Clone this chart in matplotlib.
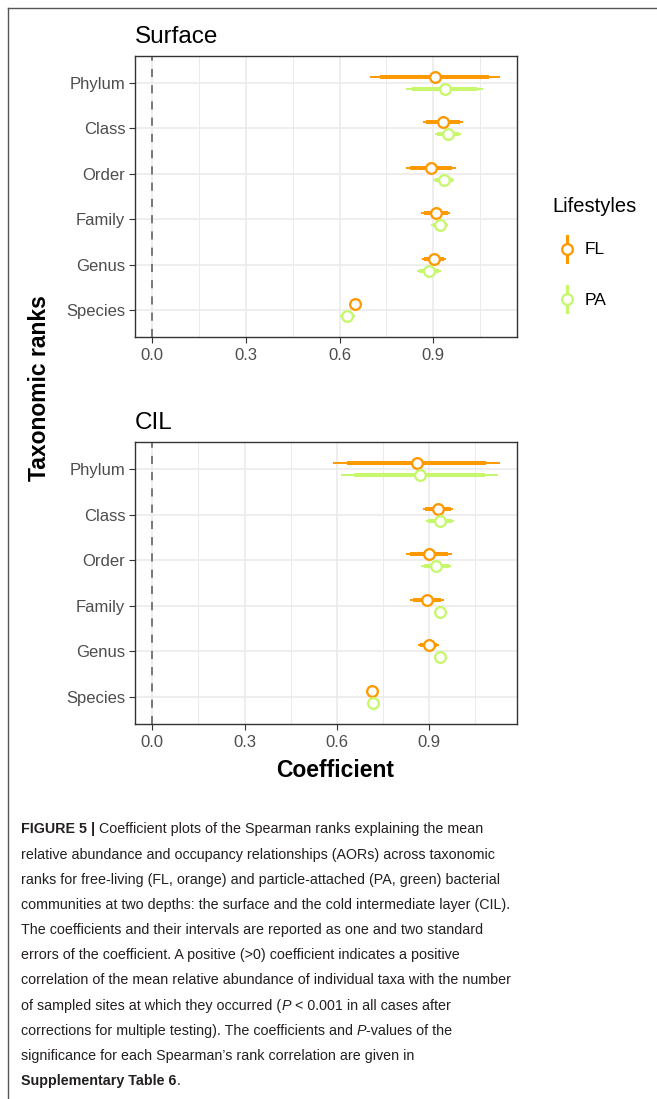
import matplotlib
matplotlib.use('Agg')
import matplotlib.pyplot as plt
import numpy as np
from matplotlib import font_manager

# Spearman coefficients and their standard errors per taxonomic rank
ranks = ['Phylum', 'Class', 'Order', 'Family', 'Genus', 'Species']

surf_fl_coef = [0.905, 0.932, 0.892, 0.908, 0.902, 0.649]
surf_fl_se = [0.106, 0.033, 0.041, 0.0235, 0.020, 0.006]
surf_pa_coef = [0.937, 0.948, 0.934, 0.921, 0.887, 0.625]
surf_pa_se = [0.063, 0.021, 0.017, 0.014, 0.020, 0.012]

cil_fl_coef = [0.860, 0.930, 0.900, 0.895, 0.899, 0.716]
cil_fl_se = [0.138, 0.0255, 0.038, 0.028, 0.017, 0.005]
cil_pa_coef = [0.870, 0.936, 0.924, 0.935, 0.936, 0.719]
cil_pa_se = [0.130, 0.0235, 0.0245, 0.006, 0.006, 0.004]

xticks = [0.0, 0.3, 0.6, 0.9]
xtick_labels = ['0.0', '0.3', '0.6', '0.9']

fl_col = '#FF9900'
pa_col = '#C6F76D'


def has_font(name):
    try:
        font_manager.findfont(name, fallback_to_default=False)
        return True
    except ValueError:
        return False


plt.rcParams['font.family'] = ['Liberation Sans', 'DejaVu Sans']
narrow = has_font('Liberation Sans Narrow')
cap_font = ['Liberation Sans Narrow', 'DejaVu Sans'] if narrow else ['Liberation Sans', 'DejaVu Sans']
cap_size = 12.3 if narrow else 10.3

W, H = 657, 1099
fig = plt.figure(figsize=(W / 100, H / 100), dpi=100)


def panel(rect, title, series):
    l, t, r, b = rect
    ax = fig.add_axes([l / W, 1 - b / H, (r - l) / W, (b - t) / H])
    ypos = np.arange(len(ranks))[::-1] + 1
    ax.axvline(0, color='#6E6E6E', lw=1.3, ls=(0, (4.5, 4.5)), zorder=1)
    hi = 0
    for coef, se, col, dy in series:
        coef = np.array(coef)
        se = np.array(se)
        y = ypos + dy
        ax.hlines(y, coef - 1.96 * se, coef + 1.96 * se, color=col, lw=1.4, zorder=2)
        ax.hlines(y, coef - 1.645 * se, coef + 1.645 * se, color=col, lw=2.9, zorder=2)
        ax.plot(coef, y, 'o', ms=7.7, mfc='white', mec=col, mew=1.65, zorder=3)
        hi = max(hi, (coef + 1.96 * se).max())
    pad = 0.05 * hi
    ax.set_xlim(-pad, hi + pad)
    ax.set_ylim(0.4, 6.6)
    ax.set_xticks(xticks)
    ax.set_xticklabels(xtick_labels)
    ax.set_xticks([0.15, 0.45, 0.75, 1.05], minor=True)
    ax.set_yticks(ypos)
    ax.set_yticklabels(ranks)
    ax.grid(which='major', color='#EBEBEB', lw=1.2)
    ax.grid(which='minor', axis='x', color='#EBEBEB', lw=0.7)
    ax.set_axisbelow(True)
    for s in ax.spines.values():
        s.set_color('#333333')
        s.set_linewidth(1.0)
    ax.tick_params(which='major', labelsize=12, labelcolor='#4D4D4D', color='#333333',
                   length=4, width=0.8)
    ax.tick_params(axis='y', pad=3)
    ax.tick_params(axis='x', pad=4)
    ax.tick_params(which='minor', length=0)
    ax.set_title(title, loc='left', fontsize=17.5, pad=9)
    return ax


panel((135, 55.7, 517, 337.3), 'Surface',
      [(surf_fl_coef, surf_fl_se, fl_col, 0.13), (surf_pa_coef, surf_pa_se, pa_col, -0.13)])
panel((135, 441.7, 517, 724.3), 'CIL',
      [(cil_fl_coef, cil_fl_se, fl_col, 0.13), (cil_pa_coef, cil_pa_se, pa_col, -0.13)])

# overlay in pixel units for frame, labels, legend and caption
lax = fig.add_axes([0, 0, 1, 1])
lax.set_xlim(0, W)
lax.set_ylim(H, 0)
lax.axis('off')

lax.plot([7.5, W], [8, 8], color='#555555', lw=1.0)
lax.plot([7.5, 7.5], [8, H], color='#555555', lw=1.0)

lax.text(335, 777, 'Coefficient', fontsize=16.5, fontweight='bold', ha='center', va='baseline')
lax.text(40, 388, 'Taxonomic ranks', fontsize=16.5, fontweight='bold', rotation=90,
         ha='center', va='center')

# legend
lax.text(552, 211.7, 'Lifestyles', fontsize=14.5, ha='left', va='baseline')
for yc, yb, col, lab in [(248.5, 254, fl_col, 'FL'), (299, 305, pa_col, 'PA')]:
    lax.plot([567, 567], [yc - 13, yc + 13], color=col, lw=2.2)
    lax.plot([567], [yc], 'o', ms=7.7, mfc='white', mec=col, mew=1.65)
    lax.text(585, yb, lab, fontsize=12.5, ha='left', va='baseline')

# caption
renderer = fig.canvas.get_renderer()


def seg_width(s, kw):
    t1 = lax.text(0, 0, s + '|', **kw)
    t2 = lax.text(0, 0, '|', **kw)
    w = t1.get_window_extent(renderer).width - t2.get_window_extent(renderer).width
    t1.remove()
    t2.remove()
    return w


normal = {}
bold = {'fontweight': 'bold'}
ital = {'fontstyle': 'italic'}

caption = [
    [('FIGURE 5 | ', bold), ('Coefficient plots of the Spearman ranks explaining the mean', normal)],
    [('relative abundance and occupancy relationships (AORs) across taxonomic', normal)],
    [('ranks for free-living (FL, orange) and particle-attached (PA, green) bacterial', normal)],
    [('communities at two depths: the surface and the cold intermediate layer (CIL).', normal)],
    [('The coefficients and their intervals are reported as one and two standard', normal)],
    [('errors of the coefficient. A positive (>0) coefficient indicates a positive', normal)],
    [('correlation of the mean relative abundance of individual taxa with the number', normal)],
    [('of sampled sites at which they occurred (', normal), ('P', ital),
     (' < 0.001 in all cases after', normal)],
    [('corrections for multiple testing). The coefficients and ', normal), ('P', ital),
     ('-values of the', normal)],
    [('significance for each Spearman\u2019s rank correlation are given in', normal)],
    [('Supplementary Table 6', bold), ('.', normal)],
]

for i, parts in enumerate(caption):
    x = 21
    y = 833.3 + 25.2 * i
    for s, style in parts:
        kw = dict(fontfamily=cap_font, fontsize=cap_size, color='#231F20',
                  ha='left', va='baseline')
        kw.update(style)
        lax.text(x, y, s, **kw)
        x += seg_width(s, kw)

fig.savefig('out.png', dpi=100)
